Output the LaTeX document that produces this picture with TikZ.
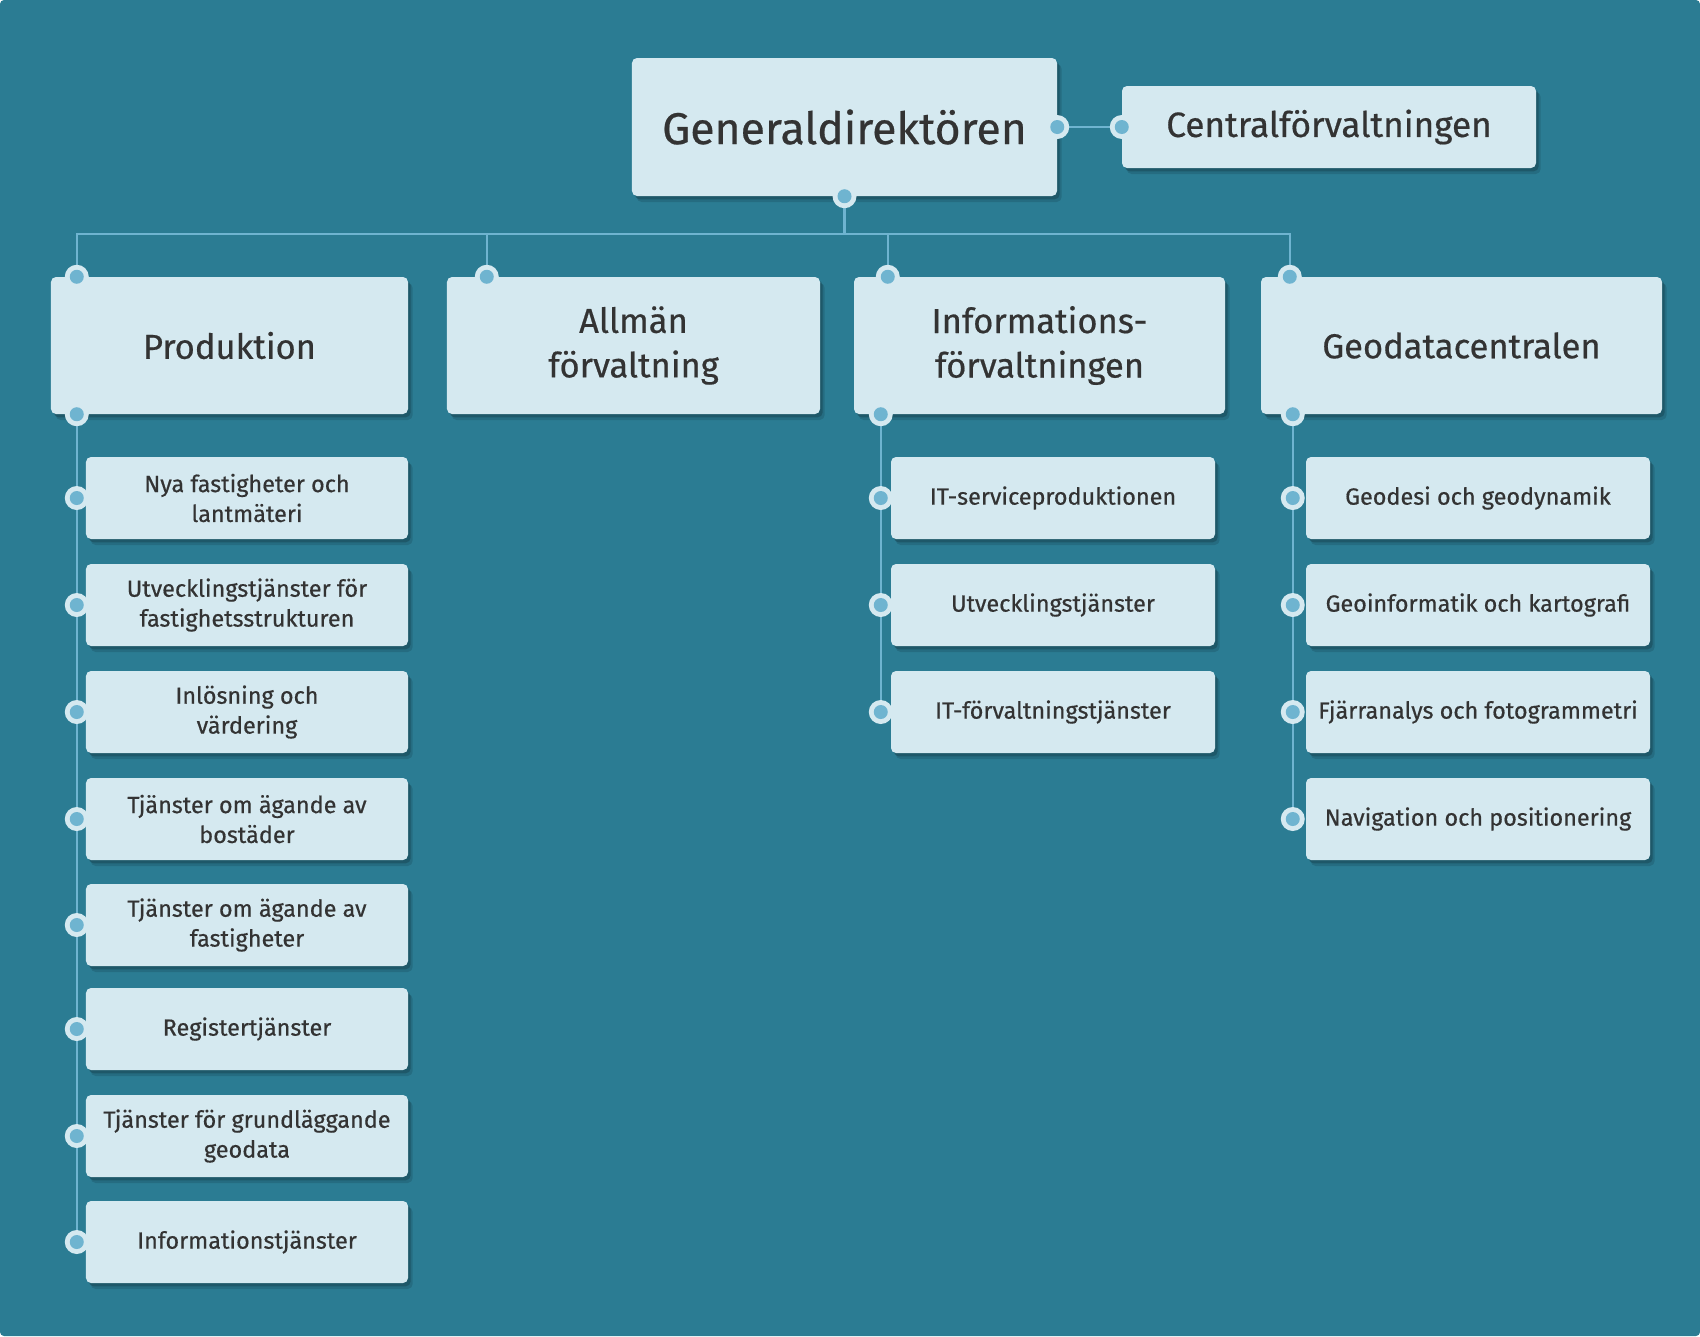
\documentclass[tikz,border=0pt]{standalone}
\usepackage{fontspec}
\setmainfont{Fira Sans}[FakeBold=0.5]
\usetikzlibrary{calc,shadows}
\pgfdeclarelayer{canvas}
\pgfdeclarelayer{lines}
\pgfsetlayers{canvas,lines,main}
\newcommand{\linkdot}[1]{\fill[boxfill] (#1) circle (0.36cm); \fill[linkblue] (#1) circle (0.21cm);}

\begin{document}
\begin{tikzpicture}[x=0.03cm,y=-0.03cm,
	box/.style={fill=boxfill,rounded corners=0.15cm,text=textgray,align=center,inner sep=0pt,
		drop shadow={shadow xshift=0.14cm,shadow yshift=-0.18cm,opacity=0.12,fill=black},
		drop shadow={shadow xshift=0.08cm,shadow yshift=-0.1cm,opacity=0.18,fill=black}},
	topbox/.style={box,font=\fontsize{38}{44}\selectfont},
	head/.style={box,minimum height=4.11cm,font=\fontsize{29.5}{38}\selectfont},
	sub/.style={box,minimum height=2.46cm,font=\fontsize{20}{25.5}\selectfont},
	link/.style={linkblue,line width=2pt}]
	\definecolor{bgteal}{HTML}{2B7C93}
	\definecolor{boxfill}{HTML}{D5E9F0}
	\definecolor{linkblue}{HTML}{6FB4D0}
	\definecolor{textgray}{HTML}{333333}
	
	\useasboundingbox (0,0) rectangle (1700,1336);
	\begin{pgfonlayer}{canvas}
		\fill[bgteal,rounded corners=0.12cm] (0,0) rectangle (1700,1336);
	\end{pgfonlayer}
	
	% top level
	\node[topbox,minimum width=12.75cm,minimum height=4.14cm] (gd) at (844.5,127) {Generaldirektören};
	\node[box,minimum width=12.42cm,minimum height=2.46cm,font=\fontsize{30}{35}\selectfont] (central) at (1329,127) {Centralförvaltningen};
	
	% departments
	\node[head,minimum width=10.71cm] (prod) at (229.5,345.5) {Produktion};
	\node[head,minimum width=11.19cm] (allm) at (633.5,345.5) {Allmän\\förvaltning};
	\node[head,minimum width=11.13cm] (info) at (1039.5,345.5) {Informations-\\förvaltningen};
	\node[head,minimum width=12.03cm] (geo) at (1461.5,345.5) {Geodatacentralen};
	
	% Produktion
	\node[sub,minimum width=9.66cm] (p1) at (247,498) {Nya fastigheter och\\lantmäteri};
	\node[sub,minimum width=9.66cm] (p2) at (247,605) {Utvecklingstjänster för\\fastighetsstrukturen};
	\node[sub,minimum width=9.66cm] (p3) at (247,712) {Inlösning och\\värdering};
	\node[sub,minimum width=9.66cm] (p4) at (247,819) {Tjänster om ägande av\\bostäder};
	\node[sub,minimum width=9.66cm] (p5) at (247,925) {Tjänster om ägande av\\fastigheter};
	\node[sub,minimum width=9.66cm] (p6) at (247,1029) {Registertjänster};
	\node[sub,minimum width=9.66cm] (p7) at (247,1136) {Tjänster för grundläggande\\geodata};
	\node[sub,minimum width=9.66cm] (p8) at (247,1242) {Informationstjänster};
	
	% Informationsförvaltningen
	\node[sub,minimum width=9.72cm] (i1) at (1053,498) {IT-serviceproduktionen};
	\node[sub,minimum width=9.72cm] (i2) at (1053,605) {Utvecklingstjänster};
	\node[sub,minimum width=9.72cm] (i3) at (1053,712) {IT-förvaltningstjänster};
	
	% Geodatacentralen
	\node[sub,minimum width=10.32cm] (g1) at (1478,498) {Geodesi och geodynamik};
	\node[sub,minimum width=10.32cm] (g2) at (1478,605) {Geoinformatik och kartografi};
	\node[sub,minimum width=10.32cm] (g3) at (1478,712) {Fjärranalys och fotogrammetri};
	\node[sub,minimum width=10.32cm] (g4) at (1478,819) {Navigation och positionering};
	
	% joints
	\coordinate (bus) at ($(gd.south)+(0,38)$);
	\coordinate (prodIn) at ($(prod.north west)+(26,0)$);
	\coordinate (allmIn) at ($(allm.north west)+(40,0)$);
	\coordinate (infoIn) at ($(info.north west)+(34,0)$);
	\coordinate (geoIn) at ($(geo.north west)+(29,0)$);
	\coordinate (prodOut) at ($(prod.south west)+(26,0)$);
	\coordinate (infoOut) at ($(info.south west)+(27,0)$);
	\coordinate (geoOut) at ($(geo.south west)+(32,0)$);
	
	\begin{pgfonlayer}{lines}
		\draw[link] (gd.east) -- (central.west);
		\draw[link] (gd.south) -- (bus);
		\draw[link] (prodIn) -- (prodIn |- bus) -- (geoIn |- bus) -- (geoIn);
		\draw[link] (allmIn) -- (allmIn |- bus);
		\draw[link] (infoIn) -- (infoIn |- bus);
		\draw[link] (prodOut) -- (prodOut |- p8.west);
		\draw[link] (infoOut) -- (infoOut |- i3.west);
		\draw[link] (geoOut) -- (geoOut |- g4.west);
	\end{pgfonlayer}
	
	\linkdot{gd.east}
	\linkdot{central.west}
	\linkdot{gd.south}
	\linkdot{prodIn}
	\linkdot{allmIn}
	\linkdot{infoIn}
	\linkdot{geoIn}
	\linkdot{prodOut}
	\linkdot{infoOut}
	\linkdot{geoOut}
	\linkdot{p1.west -| prodOut}
	\linkdot{p2.west -| prodOut}
	\linkdot{p3.west -| prodOut}
	\linkdot{p4.west -| prodOut}
	\linkdot{p5.west -| prodOut}
	\linkdot{p6.west -| prodOut}
	\linkdot{p7.west -| prodOut}
	\linkdot{p8.west -| prodOut}
	\linkdot{i1.west -| infoOut}
	\linkdot{i2.west -| infoOut}
	\linkdot{i3.west -| infoOut}
	\linkdot{g1.west -| geoOut}
	\linkdot{g2.west -| geoOut}
	\linkdot{g3.west -| geoOut}
	\linkdot{g4.west -| geoOut}
\end{tikzpicture}
\end{document}
